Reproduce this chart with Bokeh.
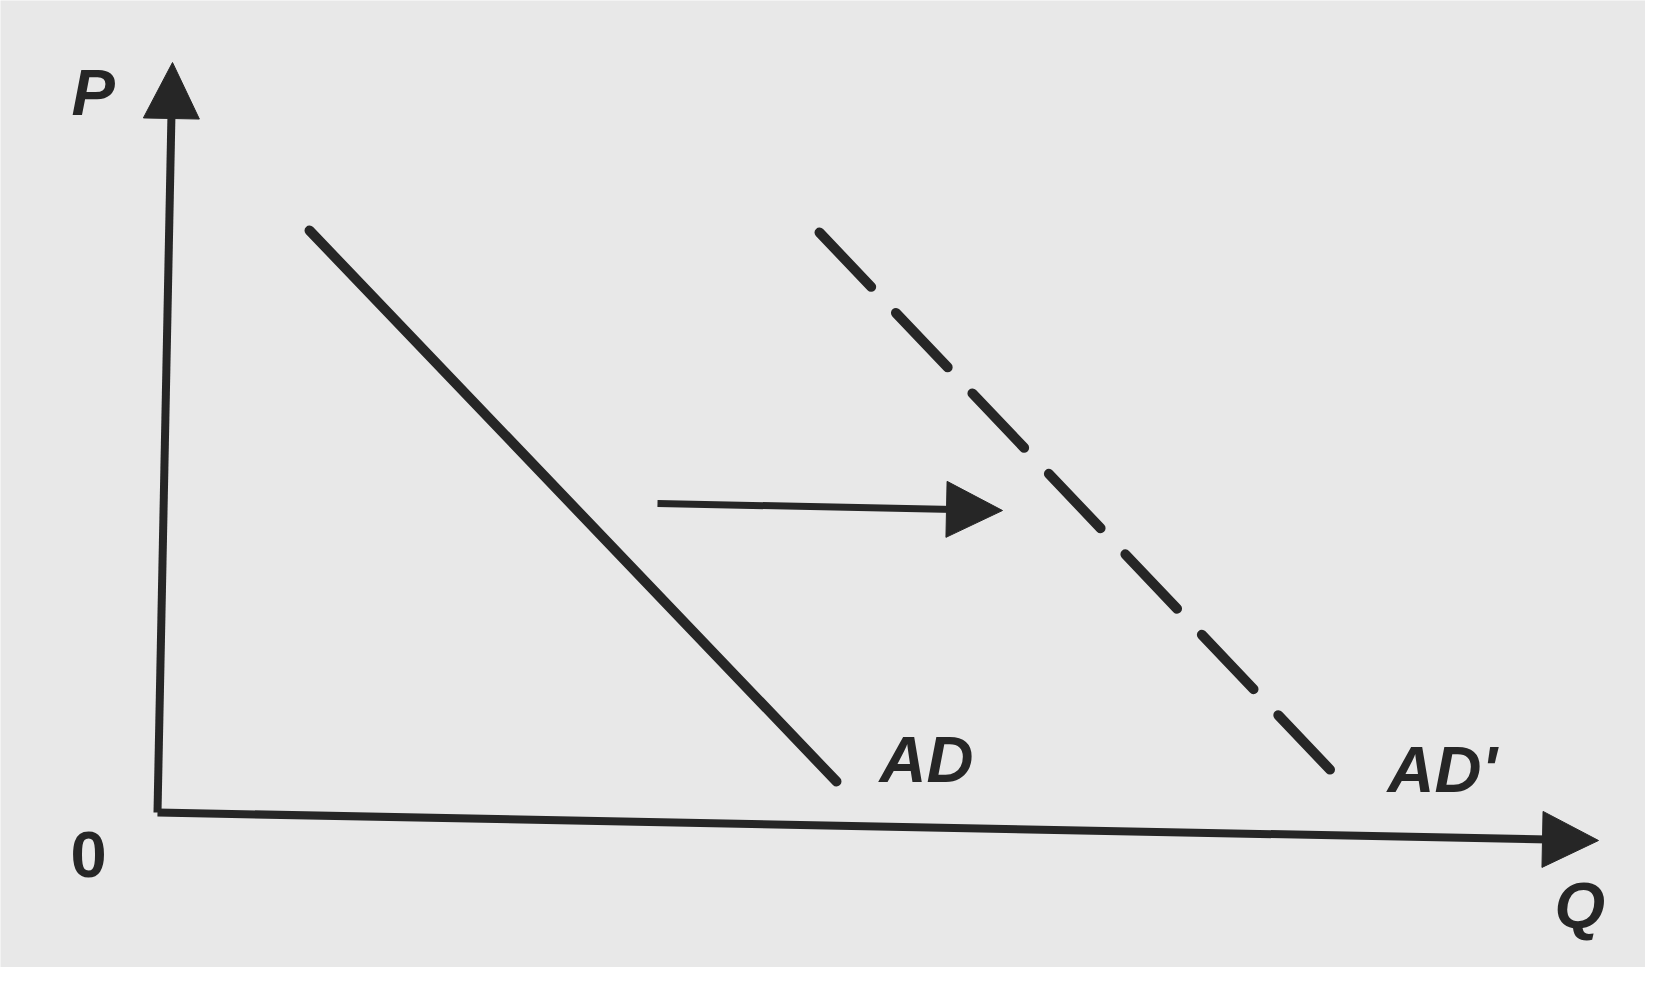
from bokeh.plotting import figure
from bokeh.models import Range1d, Arrow, NormalHead, ColumnDataSource
from bokeh.core.properties import value
from bokeh.embed import file_html
from bokeh.resources import INLINE

# --- data (Q, P units; origin at axis corner) ---
p_axis_q = [0, 15]
p_axis_p = [0, 750]
q_axis_q = [0, 1441]
q_axis_p = [0, -28]

ad_q = [152, 679]
ad_p = [582, 31]
ad2_q = [662, 1180]
ad2_p = [580, 35]

shift_q = [500, 845]
shift_p = [309, 302]

label_text = ["P", "Q", "AD", "AD'"]
label_q = [-86, 1397, 722, 1230]
label_p = [720, -93, 53, 43]

zero_text = ["0"]
zero_q = [-87]
zero_p = [-42]

INK = "#262626"
BG = "#e8e8e8"

p = figure(width=1645, height=967, output_backend="svg", toolbar_location=None,
           x_range=Range1d(-157, 1488), y_range=Range1d(-155, 812),
           min_border=0, background_fill_color=BG, border_fill_color=BG,
           outline_line_color=None)
p.axis.visible = False
p.grid.visible = False

# axes with arrowheads
p.add_layout(Arrow(x_start=p_axis_q[0], y_start=p_axis_p[0], x_end=p_axis_q[1], y_end=p_axis_p[1],
                   line_width=8, line_color=INK,
                   end=NormalHead(size=56, fill_color=INK, line_color=INK, line_width=1)))
p.add_layout(Arrow(x_start=q_axis_q[0], y_start=q_axis_p[0], x_end=q_axis_q[1], y_end=q_axis_p[1],
                   line_width=8, line_color=INK,
                   end=NormalHead(size=56, fill_color=INK, line_color=INK, line_width=1)))

# AD curves
p.line(ad_q, ad_p, line_width=10, line_color=INK, line_cap="round")
p.line(ad2_q, ad2_p, line_width=10, line_color=INK, line_cap="round", line_dash="75 36")

# shift arrow
p.add_layout(Arrow(x_start=shift_q[0], y_start=shift_p[0], x_end=shift_q[1], y_end=shift_p[1],
                   line_width=7, line_color=INK,
                   end=NormalHead(size=56, fill_color=INK, line_color=INK, line_width=1)))

# labels
src = ColumnDataSource(dict(x=label_q, y=label_p, t=label_text))
p.text(x="x", y="y", text="t", source=src, text_font=value("Liberation Sans"),
       text_font_size="65px", text_font_style="bold italic", text_color=INK,
       text_align="left", text_baseline="alphabetic")
src0 = ColumnDataSource(dict(x=zero_q, y=zero_p, t=zero_text))
p.text(x="x", y="y", text="t", source=src0, text_font=value("Liberation Sans"),
       text_font_size="65px", text_font_style="bold", text_color=INK,
       text_align="left", text_baseline="alphabetic")

open("out.html", "w").write(file_html(p, INLINE))
